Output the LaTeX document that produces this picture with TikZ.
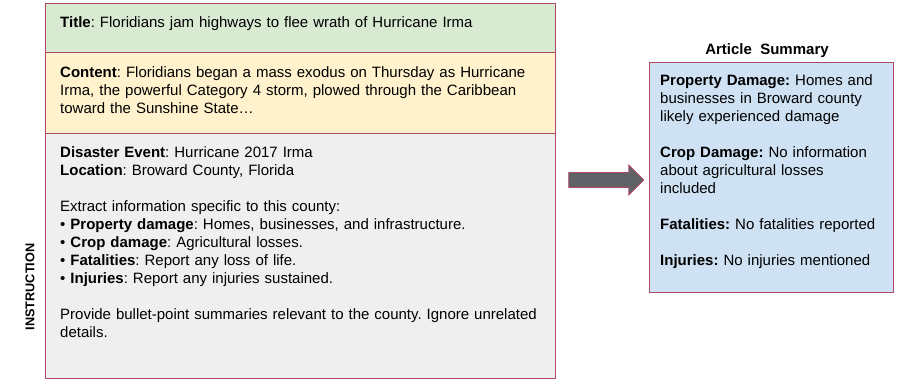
\documentclass[tikz,border=0pt]{standalone}
\usepackage{fontspec}
\setmainfont{Liberation Sans}
\usepackage{xcolor}
\usetikzlibrary{positioning,shapes.arrows}
\definecolor{rim}{HTML}{B04A64}
\definecolor{sage}{HTML}{D9EAD3}
\definecolor{cream}{HTML}{FFF2CC}
\definecolor{pale}{HTML}{EFEFEF}
\definecolor{sky}{HTML}{CFE2F3}
\definecolor{slate}{HTML}{5F6368}
\frenchspacing

\begin{document}
\begin{tikzpicture}[x=1pt,y=-1pt,
 box/.style={draw=rim,line width=1.2pt,anchor=north west,minimum width=510pt,inner sep=0pt},
 txt/.style={anchor=north west,inner sep=0pt,text width=490pt,align=left,font=\fontsize{15}{18}\selectfont},
 sumtxt/.style={txt,text width=228pt},
 blk/.style={single arrow,draw=rim,line width=0.8pt,fill=slate,minimum height=75pt,
  inner xsep=0pt,inner ysep=7pt,single arrow head extend=7.5pt,single arrow tip angle=90}]
\useasboundingbox (0,0) rectangle (907,382);
% left column
\node[box,fill=sage,minimum height=49pt] (ti) at (45,3) {};
\node[box,fill=cream,minimum height=81pt] (co) at (45,52) {};
\node[box,fill=pale,minimum height=245pt] (ins) at (45,133) {};
\node[txt,below right=13pt and 15pt of ti.north west] (tit) {\textbf{Title}: Floridians jam highways to flee wrath of Hurricane Irma};
\node[txt,below right=14pt and 15pt of co.north west] (cot) {\textbf{Content}: Floridians began a mass exodus on Thursday as Hurricane\\
 Irma, the powerful Category 4 storm, plowed through the Caribbean\\
 toward the Sunshine State…};
\node[txt,below right=13pt and 15pt of ins.north west] (inst) {\textbf{Disaster Event}: Hurricane 2017 Irma\\
 \textbf{Location}: Broward County, Florida\\[18pt]
 Extract information specific to this county:\\
 \textbullet\ \textbf{Property damage}: Homes, businesses, and infrastructure.\\
 \textbullet\ \textbf{Crop damage}: Agricultural losses.\\
 \textbullet\ \textbf{Fatalities}: Report any loss of life.\\
 \textbullet\ \textbf{Injuries}: Report any injuries sustained.\\[18pt]
 Provide bullet-point summaries relevant to the county. Ignore unrelated\\
 details.};
\node[rotate=90,font=\fontsize{12.7}{14}\selectfont\bfseries] (lab) at (30,287) {INSTRUCTION};
% right column
\node[box,fill=sky,minimum width=244pt,minimum height=230pt] (sum) at (649,62) {};
\node[anchor=base,inner sep=0pt,font=\fontsize{15}{18}\selectfont\bfseries] (sumh) at (767,55) {Article\ \ Summary};
\node[sumtxt,below right=12pt and 11pt of sum.north west] (sumt) {\textbf{Property Damage:} Homes and\\
 businesses in Broward county\\
 likely experienced damage\\[18pt]
 \textbf{Crop Damage:} No information\\
 about agricultural losses\\
 included\\[18pt]
 \textbf{Fatalities:} No fatalities reported\\[18pt]
 \textbf{Injuries:} No injuries mentioned};
\node[blk] (ar) at (602.5,180) {};
\end{tikzpicture}
\end{document}
